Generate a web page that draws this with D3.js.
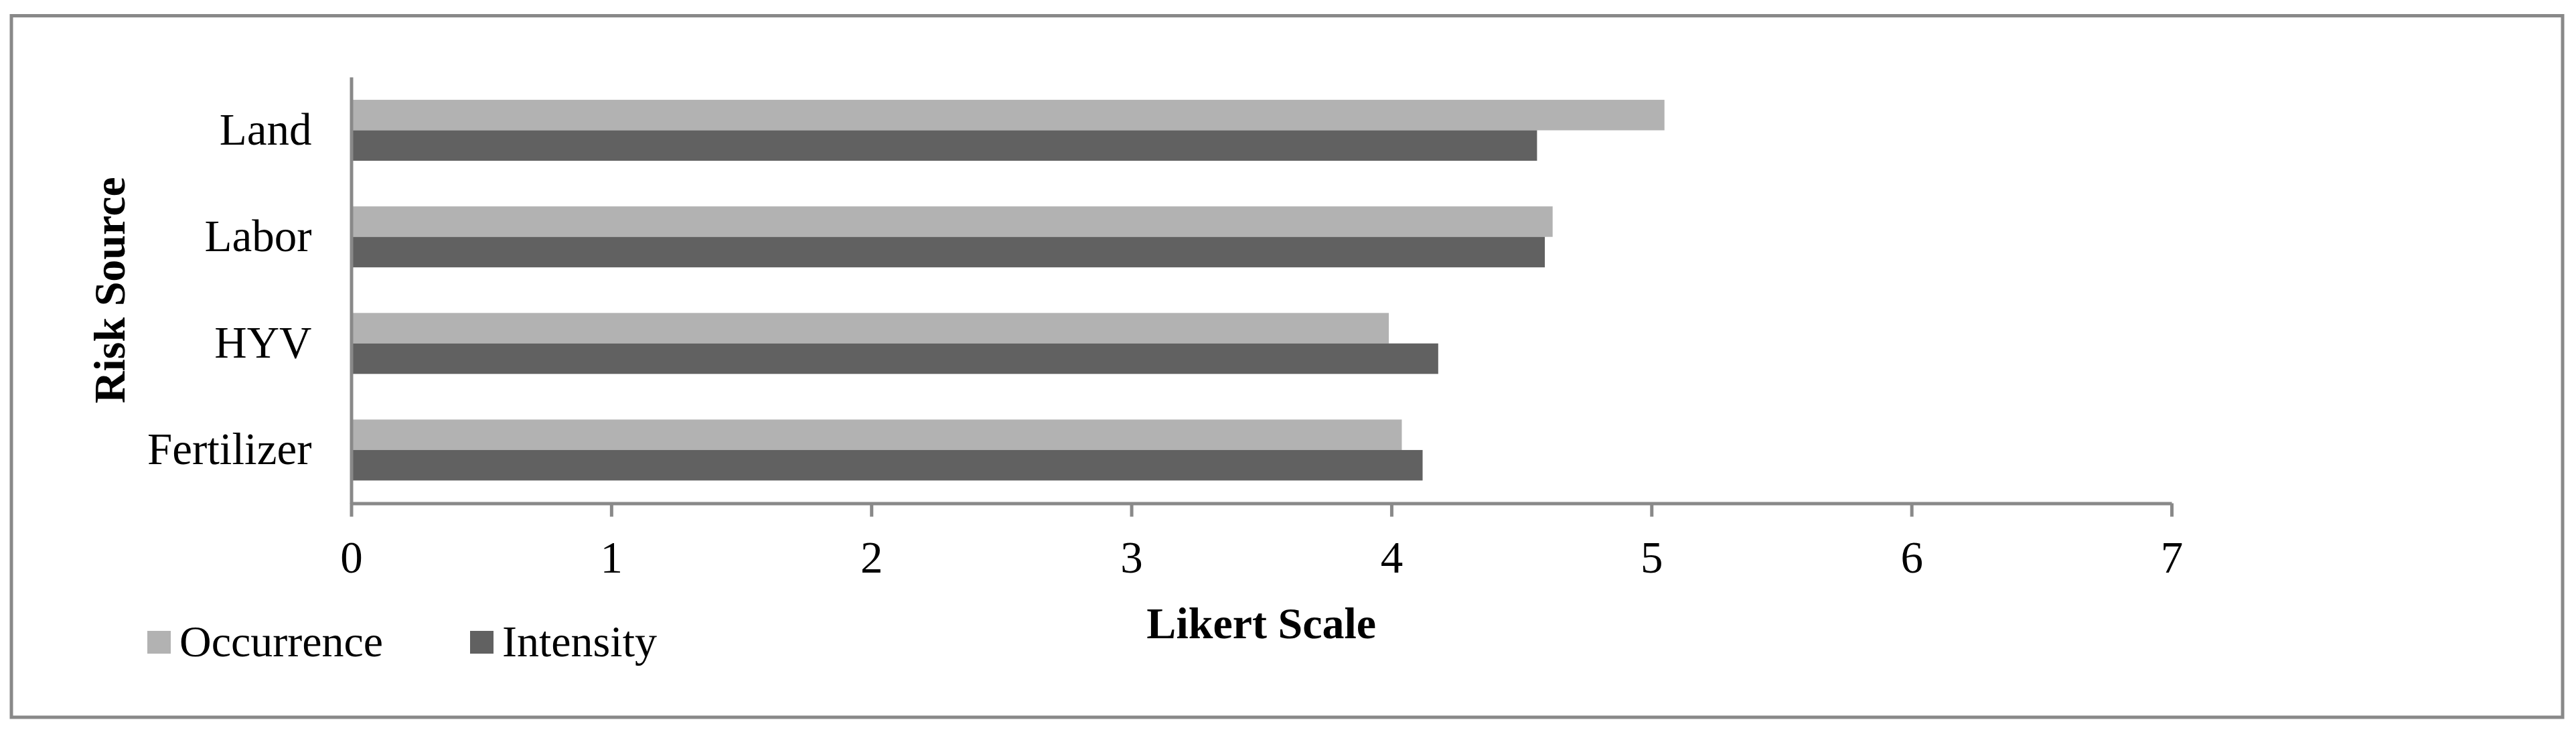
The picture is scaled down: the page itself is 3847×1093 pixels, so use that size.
<!DOCTYPE html>
<html>
<head>
<meta charset="utf-8">
<script src="https://cdn.jsdelivr.net/npm/d3@7"></script>
<style>
  body { margin: 0; background: #fff; }
  svg { display: block; }
  .axis text { font-family: "Liberation Serif", "Times New Roman", serif; fill: #000; }
</style>
</head>
<body>
<svg class="svg"></svg>
<script>
// data
var categories = ['Land', 'Labor', 'HYV', 'Fertilizer'];
var seriesNames = ['Occurrence', 'Intensity'];
var occurrence = [5.05, 4.62, 3.99, 4.04];
var intensity = [4.56, 4.59, 4.18, 4.12];
var xTicks = [0, 1, 2, 3, 4, 5, 6, 7];

var colors = ['#b2b2b2', '#616161'];
var axisColor = '#898989';
var serif = '"Liberation Serif", "Times New Roman", serif';

var width = 3847;
var height = 1093;

var svg = d3.select('.svg')
  .attr('width', width)
  .attr('height', height);

// outer frame
svg.append('rect')
  .attr('x', 17)
  .attr('y', 23.5)
  .attr('width', 3810)
  .attr('height', 1047.5)
  .attr('fill', '#fff')
  .attr('stroke', axisColor)
  .attr('stroke-width', 5);

var plot = { left: 524.5, right: 3243, top: 115, bottom: 751.5 };

var x = d3.scaleLinear()
  .domain([0, 7])
  .range([plot.left, plot.right]);

var y = d3.scaleBand()
  .domain(categories)
  .range([plot.top, plot.bottom])
  .paddingInner(0.428)
  .paddingOuter(0.214);

var ySub = d3.scaleBand()
  .domain(seriesNames)
  .range([0, y.bandwidth()]);

//rows of the table: one per category, one value per series
var rows = categories.map(function (c, i) {
  return { cat: c, values: [occurrence[i], intensity[i]] };
});

var groups = svg.selectAll('.group')
  .data(rows)
  .enter().append('g')
  .attr('class', 'group')
  .attr('transform', d => 'translate(0,' + y(d.cat) + ')');

groups.selectAll('rect')
  .data(d => d.values.map((v, i) => ({ name: seriesNames[i], value: v, i: i })))
  .enter().append('rect')
  .attr('x', x(0))
  .attr('y', d => ySub(d.name))
  .attr('width', d => x(d.value) - x(0))
  .attr('height', ySub.bandwidth())
  .attr('fill', d => colors[d.i]);

// x axis
var xAxis = svg.append('g')
  .attr('class', 'axis')
  .attr('transform', 'translate(0,' + plot.bottom + ')')
  .call(d3.axisBottom(x).tickValues(xTicks).tickFormat(d3.format('d'))
    .tickSize(20).tickSizeOuter(0).tickPadding(36));

xAxis.select('.domain').attr('stroke', axisColor).attr('stroke-width', 5);
xAxis.selectAll('.tick line').attr('stroke', axisColor).attr('stroke-width', 5);
xAxis.selectAll('.tick text').attr('font-size', 67).attr('dy', '0.71em');

// y axis (no ticks)
var yAxis = svg.append('g')
  .attr('class', 'axis')
  .attr('transform', 'translate(' + plot.left + ',0)')
  .call(d3.axisLeft(y).tickSize(0).tickPadding(59));

yAxis.select('.domain').attr('stroke', axisColor).attr('stroke-width', 5);
yAxis.selectAll('.tick text').attr('font-size', 67).attr('dy', '0.32em');

// axis titles
svg.append('text')
  .attr('x', (plot.left + plot.right) / 2)
  .attr('y', 953)
  .attr('text-anchor', 'middle')
  .attr('font-family', serif)
  .attr('font-weight', 'bold')
  .attr('font-size', 66)
  .text('Likert Scale');

svg.append('text')
  .attr('transform', 'translate(186,' + (plot.top + plot.bottom) / 2 + ') rotate(-90)')
  .attr('text-anchor', 'middle')
  .attr('font-family', serif)
  .attr('font-weight', 'bold')
  .attr('font-size', 66)
  .text('Risk Source');

// legend
var legendX = [220, 702];
var legend = svg.selectAll('.legend')
  .data(seriesNames)
  .enter().append('g')
  .attr('class', 'legend')
  .attr('transform', (d, i) => 'translate(' + legendX[i] + ',0)');

legend.append('rect')
  .attr('x', 0)
  .attr('y', 942)
  .attr('width', 35)
  .attr('height', 34)
  .attr('fill', (d, i) => colors[i]);

legend.append('text')
  .attr('x', 48)
  .attr('y', 980)
  .attr('font-family', serif)
  .attr('font-size', 66)
  .text(d => d);
</script>
</body>
</html>
